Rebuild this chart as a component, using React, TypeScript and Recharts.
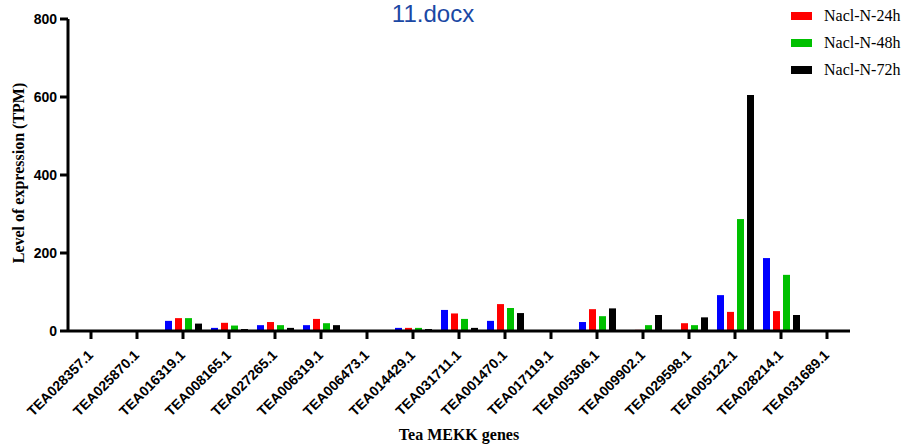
import { BarChart, Bar, XAxis, YAxis, Legend } from 'recharts';

// Tea MEKK genes, expression in TPM
const genes = [
  'TEA028357.1', 'TEA025870.1', 'TEA016319.1', 'TEA008165.1', 'TEA027265.1',
  'TEA006319.1', 'TEA006473.1', 'TEA014429.1', 'TEA031711.1', 'TEA001470.1',
  'TEA017119.1', 'TEA005306.1', 'TEA009902.1', 'TEA029598.1', 'TEA005122.1',
  'TEA028214.1', 'TEA031689.1',
];
const ck = [0, 0, 26, 8, 15, 15, 0, 8, 54, 26, 0, 23, 0, 0, 92, 187, 0];
const h24 = [0, 0, 33, 21, 23, 31, 0, 8, 45, 69, 0, 56, 3, 20, 49, 51, 0];
const h48 = [0, 0, 33, 14, 15, 20, 0, 8, 31, 59, 0, 38, 15, 15, 287, 144, 0];
const h72 = [0, 0, 19, 5, 8, 15, 0, 5, 8, 46, 0, 58, 41, 35, 605, 41, 0];
const yTicks = [0, 200, 400, 600, 800];

const data = genes.map((g, i) => ({ gene: g, ck: ck[i], h24: h24[i], h48: h48[i], h72: h72[i] }));

const SANS = '"Liberation Sans", Arial, sans-serif';
const SERIF = '"Liberation Serif", "Times New Roman", serif';

const GeneTick = ({ x, y, payload }: any) => {
  const ax = x + 3;
  const ay = y + 15;
  return (
    <text
      x={ax}
      y={ay}
      textAnchor="end"
      transform={`rotate(-45, ${ax}, ${ay})`}
      fontFamily={SANS}
      fontWeight="bold"
      fontSize={14}
      fill="#000"
    >
      {payload.value}
    </text>
  );
};

const LegendBox = ({ payload }: any) => (
  <div style={{ fontFamily: SERIF, fontSize: 16, color: '#000' }}>
    {(payload || [])
      .filter((p: any) => p.value !== 'Control')
      .map((p: any) => (
        <div key={p.value} style={{ display: 'flex', alignItems: 'center', height: 26.7 }}>
          <span style={{ display: 'inline-block', width: 21, height: 8, background: p.color, marginRight: 12 }} />
          <span>{p.value}</span>
        </div>
      ))}
  </div>
);

export default function App() {
  return (
    <div style={{ position: 'relative', width: 907, height: 446, background: '#fff' }}>
      <style>{'body{margin:0}'}</style>
      <div
        style={{
          position: 'absolute',
          top: 0,
          left: 0,
          width: 866,
          textAlign: 'center',
          fontFamily: SANS,
          fontSize: 24,
          color: '#1b48a4',
          zIndex: 2,
        }}
      >
        11.docx
      </div>
      <BarChart
        width={907}
        height={446}
        data={data}
        margin={{ top: 19, right: 57, bottom: 15, left: 8 }}
        barGap={3}
      >
        <XAxis
          dataKey="gene"
          interval={0}
          height={100}
          tick={<GeneTick />}
          tickSize={8}
          axisLine={{ stroke: '#000', strokeWidth: 3 }}
          tickLine={{ stroke: '#000', strokeWidth: 3 }}
          label={({ viewBox }: any) => (
            <text
              x={viewBox.x + viewBox.width / 2}
              y={viewBox.y + 109}
              textAnchor="middle"
              fontFamily={SERIF}
              fontWeight="bold"
              fontSize={16}
              fill="#000"
            >
              Tea MEKK genes
            </text>
          )}
        />
        <YAxis
          width={60}
          domain={[0, 800]}
          ticks={yTicks}
          interval={0}
          tickSize={8}
          tickMargin={3}
          axisLine={{ stroke: '#000', strokeWidth: 3 }}
          tickLine={{ stroke: '#000', strokeWidth: 3 }}
          tick={{ fontFamily: SANS, fontWeight: 'bold', fontSize: 14, fill: '#000' }}
          label={({ viewBox }: any) => {
            const cx = viewBox.x + 10;
            const cy = viewBox.y + viewBox.height / 2 - 2;
            return (
              <text
                x={cx}
                y={cy}
                textAnchor="middle"
                dominantBaseline="central"
                transform={`rotate(-90, ${cx}, ${cy})`}
                fontFamily={SERIF}
                fontWeight="bold"
                fontSize={16}
                fill="#000"
              >
                Level of expression (TPM)
              </text>
            );
          }}
        />
        <Legend
          layout="vertical"
          align="center"
          verticalAlign="middle"
          content={<LegendBox />}
          wrapperStyle={{ top: 3, left: 791, width: 116, height: 90 }}
        />
        <Bar dataKey="ck" name="Control" fill="#0000ff" barSize={7} legendType="none" isAnimationActive={false} />
        <Bar dataKey="h24" name="Nacl-N-24h" fill="#ff0000" barSize={7} isAnimationActive={false} />
        <Bar dataKey="h48" name="Nacl-N-48h" fill="#00c000" barSize={7} isAnimationActive={false} />
        <Bar dataKey="h72" name="Nacl-N-72h" fill="#000000" barSize={7} isAnimationActive={false} />
      </BarChart>
    </div>
  );
}
